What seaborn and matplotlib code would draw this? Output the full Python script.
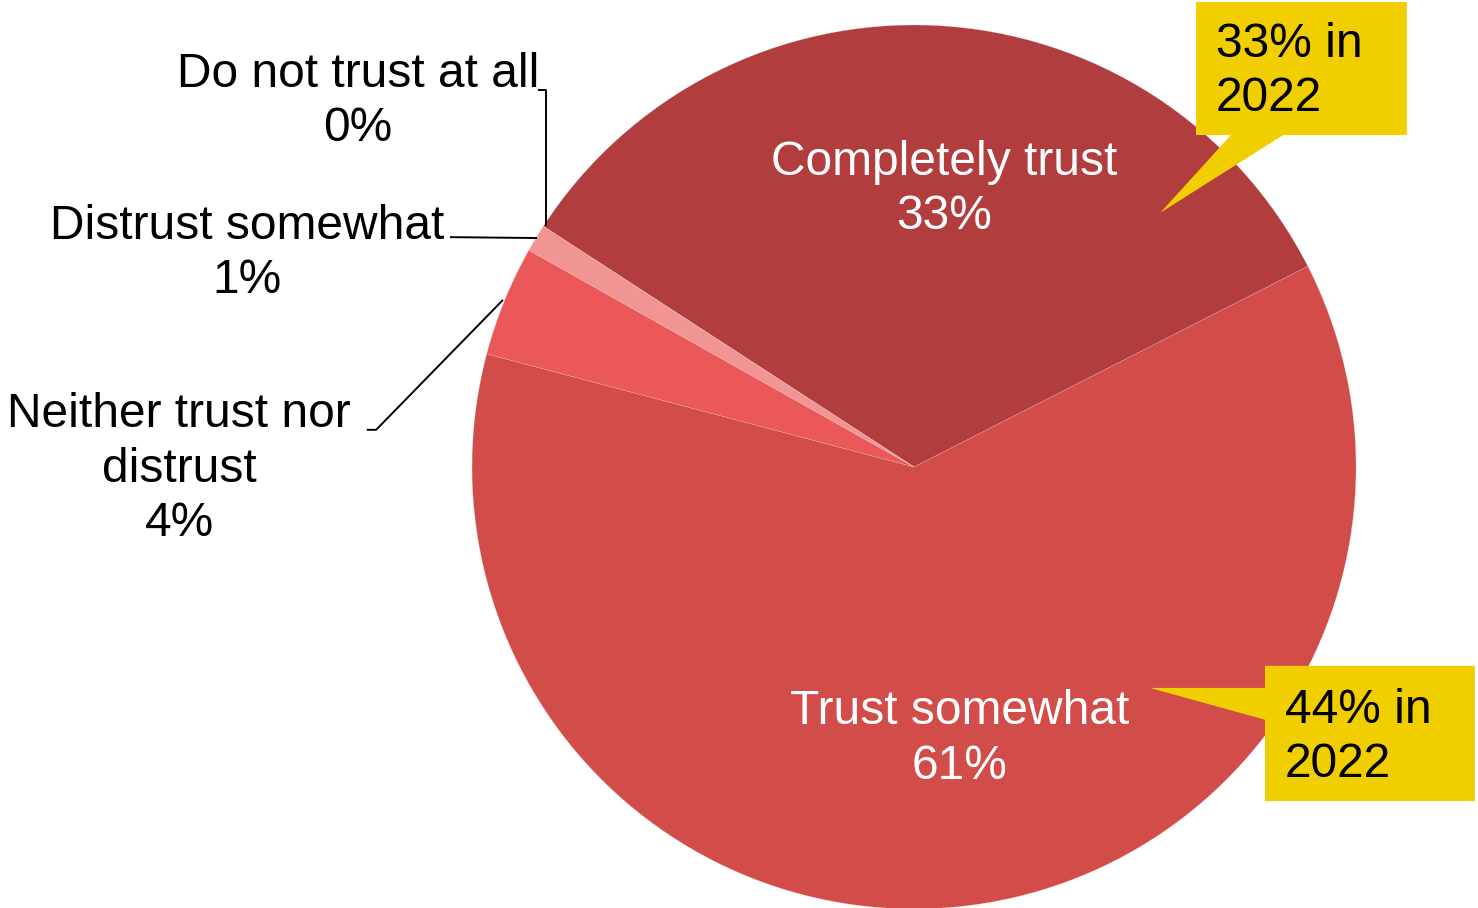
import matplotlib
matplotlib.use("Agg")
import matplotlib.pyplot as plt
from matplotlib.patches import Polygon
import seaborn as sns

# Survey shares (percent) for the current year and the 2022 comparison
categories = ["Completely trust", "Trust somewhat", "Neither trust nor\ndistrust",
              "Distrust somewhat", "Do not trust at all"]
shares = [33, 61, 4, 1, 0]
prior_year = "2022"
prior_shares = {"Completely trust": 33, "Trust somewhat": 44}

colors = ["#B13D3F", "#D24C4A", "#EB5859", "#F09494", "#A83538"]
callout_color = "#F0CE00"

sns.set_theme(style="white")
plt.rcParams["font.family"] = ["Liberation Sans", "DejaVu Sans"]

fig = plt.figure(figsize=(14.78, 9.08), dpi=100)
ax = fig.add_axes([0, 0, 1, 1])

wedges, _ = ax.pie(shares, colors=colors, startangle=147, counterclock=False,
                   radius=1.0, center=(0, 0),
                   wedgeprops=dict(edgecolor="#f0c8c8", linewidth=0.15))
ax.set_xlim(-2.068, 1.276)
ax.set_ylim(-0.998, 1.0566)
ax.set_aspect("auto")
ax.axis("off")

fs = 34.5
ls = 1.27

# In-slice labels
inside = {"Completely trust": (0.068, 0.628), "Trust somewhat": (0.104, -0.616)}
for name, (x, y) in inside.items():
    v = shares[categories.index(name)]
    ax.text(x, y, f"{name}\n{v}%", color="white", fontsize=fs, ha="center",
            va="center", linespacing=ls)

# Outside labels with leader lines
outside = {
    "Do not trust at all": ((-1.258, 0.827), [(-0.851, 0.853), (-0.833, 0.853), (-0.833, 0.545)]),
    "Distrust somewhat": ((-1.509, 0.483), [(-1.050, 0.520), (-0.853, 0.518)]),
    "Neither trust nor\ndistrust": ((-1.663, -0.005), [(-1.238, 0.084), (-1.217, 0.084), (-0.930, 0.378)]),
}
for name, ((x, y), path) in outside.items():
    v = shares[categories.index(name)]
    ax.text(x, y, f"{name}\n{v}%", color="black", fontsize=fs, ha="center",
            va="center", linespacing=ls)
    xs, ys = zip(*path)
    ax.plot(xs, ys, color="black", lw=1.4, solid_capstyle="butt")

# Callouts comparing with the prior year
callouts = {
    "Completely trust": ([(0.638, 1.052), (1.115, 1.052), (1.115, 0.751), (0.835, 0.751),
                          (0.557, 0.575), (0.717, 0.751), (0.638, 0.751)], (0.683, 0.895)),
    "Trust somewhat": ([(0.794, -0.450), (1.269, -0.450), (1.269, -0.756), (0.794, -0.756),
                        (0.794, -0.572), (0.534, -0.500), (0.794, -0.500)], (0.839, -0.612)),
}
for name, (poly, (tx, ty)) in callouts.items():
    ax.add_patch(Polygon(poly, closed=True, facecolor=callout_color, edgecolor="none", zorder=5))
    ax.text(tx, ty, f"{prior_shares[name]}% in\n{prior_year}", color="black", fontsize=fs,
            ha="left", va="center", linespacing=ls, zorder=6)

fig.savefig("out.png", dpi=100)
